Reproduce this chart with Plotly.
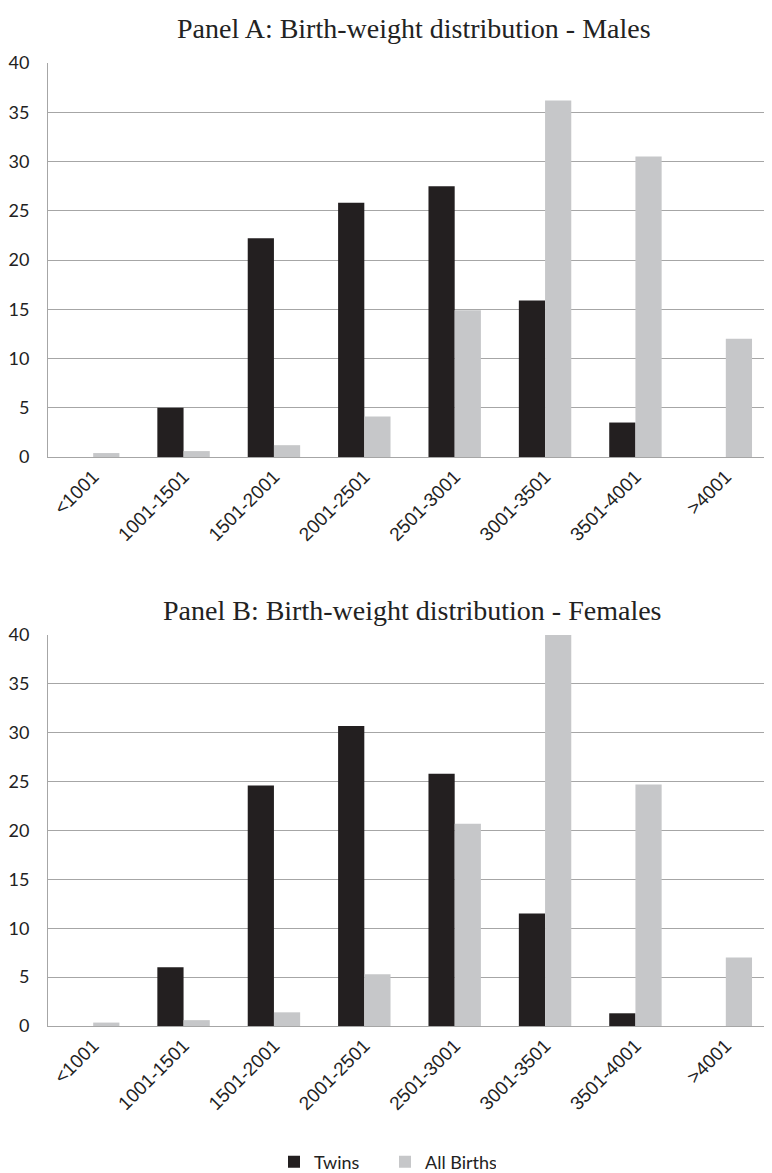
import plotly.graph_objects as go

categories = ["<1001", "1001-1501", "1501-2001", "2001-2501", "2501-3001", "3001-3501", "3501-4001", ">4001"]
males_twins = [0, 5.0, 22.2, 25.8, 27.5, 15.9, 3.5, 0]
males_all = [0.4, 0.6, 1.2, 4.1, 14.9, 36.2, 30.5, 12.0]
females_twins = [0, 6.0, 24.6, 30.7, 25.8, 11.5, 1.3, 0]
females_all = [0.35, 0.6, 1.4, 5.3, 20.7, 40.3, 24.7, 7.0]
y_ticks = [0, 5, 10, 15, 20, 25, 30, 35, 40]

TWIN_COLOR = "#231f20"
ALL_COLOR = "#c6c7c9"
GRID = "#a6a6a6"

# the page body adds an 8px offset; figure is sized to fit the window
OFF = 8
W = 772 - OFF
H = 1173 - OFF
ML, MR = 48 - OFF, 1
PW = W - ML - MR

def px_x(page_x):
    return (page_x - OFF - ML) / PW

def px_y(page_y):
    return 1 - (page_y - OFF) / H

def dom(top_px, bot_px):
    return [px_y(bot_px), px_y(top_px)]

fig = go.Figure()
fig.add_trace(go.Bar(x=categories, y=males_twins, name="Twins", marker_color=TWIN_COLOR,
                     marker_line_width=0, xaxis="x", yaxis="y", legendgroup="t"))
fig.add_trace(go.Bar(x=categories, y=males_all, name="All Births", marker_color=ALL_COLOR,
                     marker_line_width=0, xaxis="x", yaxis="y", legendgroup="a"))
fig.add_trace(go.Bar(x=categories, y=females_twins, name="Twins", marker_color=TWIN_COLOR,
                     marker_line_width=0, xaxis="x2", yaxis="y2", showlegend=False, legendgroup="t"))
fig.add_trace(go.Bar(x=categories, y=females_all, name="All Births", marker_color=ALL_COLOR,
                     marker_line_width=0, xaxis="x2", yaxis="y2", showlegend=False, legendgroup="a"))

xcommon = dict(tickangle=-45, showgrid=False, showline=True, linecolor=GRID, linewidth=1,
               tickfont=dict(family="Liberation Sans", size=19, color="#222"),
               ticks="", domain=[0, 1], fixedrange=True, automargin=False)
ycommon = dict(range=[0, 40], tickvals=y_ticks, showgrid=True, gridcolor=GRID, gridwidth=1,
               showline=True, linecolor=GRID, linewidth=1, zeroline=False,
               tickfont=dict(family="Lato", size=18, color="#222"),
               ticklabelstandoff=14, fixedrange=True, automargin=False)

fig.update_layout(
    width=W, height=H,
    margin=dict(l=ML, r=MR, t=0, b=0, autoexpand=False),
    paper_bgcolor="white", plot_bgcolor="white",
    barmode="group", bargap=0.42, bargroupgap=0,
    xaxis=dict(**xcommon, anchor="y"),
    yaxis=dict(**ycommon, domain=dom(63, 457), anchor="x"),
    xaxis2=dict(**xcommon, anchor="y2"),
    yaxis2=dict(**ycommon, domain=dom(635, 1026), anchor="x2"),
    legend=dict(orientation="h", x=px_x(274), xanchor="left",
                y=px_y(1162), yanchor="middle",
                font=dict(family="Lato", size=18, color="#222"),
                entrywidth=66, traceorder="normal", bgcolor="rgba(0,0,0,0)"),
    showlegend=True,
    annotations=[
        dict(text="Panel A: Birth-weight distribution - Males", x=px_x(414), xref="paper",
             y=px_y(29), yref="paper", xanchor="center", yanchor="middle", showarrow=False,
             font=dict(family="Liberation Serif", size=28, color="#222")),
        dict(text="Panel B: Birth-weight distribution - Females", x=px_x(412), xref="paper",
             y=px_y(610), yref="paper", xanchor="center", yanchor="middle", showarrow=False,
             font=dict(family="Liberation Serif", size=28, color="#222")),
    ],
)

fig.write_html("out.html")
